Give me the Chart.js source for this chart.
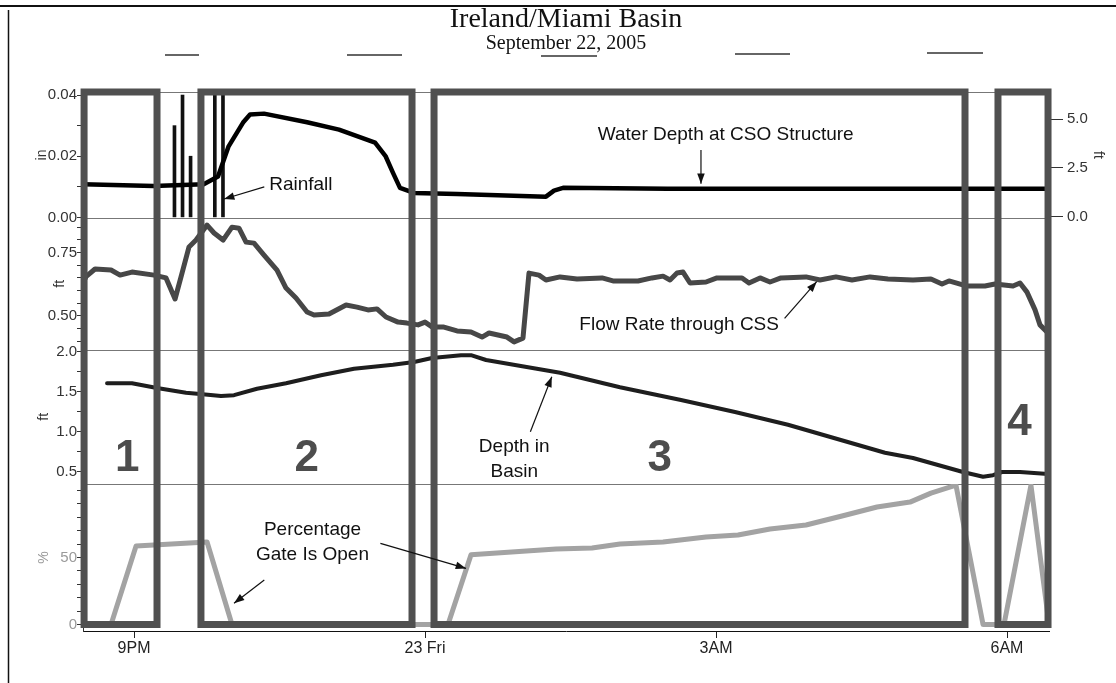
<!DOCTYPE html>
<html lang="en">
<head>
<meta charset="utf-8">
<title>Ireland/Miami Basin</title>
<script src="https://cdn.jsdelivr.net/npm/chart.js@4.4.0/dist/chart.umd.min.js"></script>
<style>
    html, body { margin: 0; padding: 0; background: #fff; }
    #wrap { width: 1116px; height: 683px; }
</style>
</head>
<body>
<div id="wrap"><canvas id="basinChart"></canvas></div>

<script type="text/javascript">

    // x values are hours after 9 PM, September 22 2005
    const timeTicks = [0, 3, 6, 9];
    const timeLabels = ['9PM', '23 Fri', '3AM', '6AM'];

    const rainHour = [0.417, 0.5, 0.583, 0.833, 0.917];
    const rainInches = [0.03, 0.04, 0.02, 0.04, 0.04];

    const csoHour = [-0.526, 0.202, 0.718, 0.866, 0.975, 1.124, 1.196, 1.340, 1.784, 2.113, 2.485,
        2.595, 2.670, 2.742, 2.887, 3.330, 4.247, 4.330, 4.423, 5.500, 7.000, 9.433];
    const csoFeet = [1.66, 1.57, 1.66, 2.05, 3.60, 4.82, 5.23, 5.28, 4.84, 4.46, 3.79,
        3.08, 2.24, 1.47, 1.21, 1.16, 1.02, 1.33, 1.47, 1.42, 1.42, 1.42];

    const flowHour = [-0.526, -0.495, -0.402, -0.237, -0.144, -0.021, 0.206, 0.330, 0.423, 0.495,
        0.567, 0.639, 0.753, 0.825, 0.918, 1.010, 1.082, 1.155, 1.237, 1.340,
        1.474, 1.567, 1.670, 1.784, 1.856, 2.010, 2.186, 2.299, 2.412, 2.505,
        2.598, 2.722, 2.814, 2.928, 3.000, 3.072, 3.186, 3.330, 3.474, 3.588,
        3.660, 3.845, 3.918, 4.010, 4.072, 4.175, 4.247, 4.392, 4.567, 4.825,
        4.938, 5.196, 5.340, 5.454, 5.526, 5.598, 5.660, 5.732, 5.897, 6.010,
        6.268, 6.340, 6.454, 6.557, 6.670, 6.928, 7.072, 7.237, 7.402, 7.588,
        7.773, 8.031, 8.216, 8.330, 8.402, 8.588, 8.773, 8.876, 9.062, 9.134,
        9.206, 9.289, 9.340, 9.423];
    const flowRate = [0.630, 0.655, 0.685, 0.681, 0.661, 0.673, 0.661, 0.650, 0.567, 0.669,
        0.772, 0.799, 0.858, 0.827, 0.799, 0.850, 0.846, 0.791, 0.787, 0.740,
        0.681, 0.610, 0.571, 0.516, 0.504, 0.508, 0.543, 0.535, 0.524, 0.528,
        0.496, 0.476, 0.472, 0.465, 0.476, 0.457, 0.457, 0.441, 0.437, 0.417,
        0.433, 0.417, 0.398, 0.413, 0.669, 0.661, 0.642, 0.654, 0.646, 0.650,
        0.638, 0.638, 0.650, 0.657, 0.642, 0.669, 0.673, 0.630, 0.634, 0.650,
        0.650, 0.630, 0.650, 0.634, 0.650, 0.654, 0.642, 0.654, 0.642, 0.654,
        0.646, 0.642, 0.646, 0.626, 0.638, 0.618, 0.618, 0.626, 0.618, 0.630,
        0.594, 0.524, 0.465, 0.433];

    const depthHour = [-0.278, -0.021, 0.237, 0.536, 0.680, 0.897, 1.031, 1.268, 1.567, 1.928,
        2.268, 2.670, 2.887, 3.072, 3.371, 3.474, 3.629, 4.392, 5.010, 5.639,
        6.196, 6.742, 7.742, 8.031, 8.546, 8.753, 8.856, 8.948, 9.134, 9.423];
    const depthFeet = [1.61, 1.61, 1.55, 1.49, 1.475, 1.45, 1.46, 1.54, 1.61, 1.71,
        1.79, 1.84, 1.875, 1.925, 1.96, 1.96, 1.90, 1.74, 1.56, 1.40,
        1.25, 1.09, 0.74, 0.675, 0.50, 0.44, 0.46, 0.50, 0.50, 0.475];

    const gateHour = [-0.237, 0.021, 0.753, 1.010, 3.237, 3.474, 4.351, 4.722, 5.010, 5.454,
        5.897, 6.227, 6.557, 6.928, 7.299, 7.660, 8.000, 8.216, 8.474, 8.753,
        8.969, 9.247, 9.433];
    const gatePct = [0, 58.6, 61.6, 0, 0, 52, 56.3, 57.1, 60.1, 61.6,
        65.3, 66.8, 71.3, 74.3, 81.0, 87.7, 91.4, 98.1, 104, 0,
        0, 104, 0];

    // operating periods drawn as boxes
    const periodNames = ['1', '2', '3', '4'];
    const periodFrom = [-0.515, 0.69, 3.093, 8.907];
    const periodTo = [0.237, 2.866, 8.567, 9.423];

    const inTicks = [0, 0.01, 0.02, 0.03, 0.04];
    const inLabels = [0, 0.02, 0.04];
    const ftTicks = [0, 0.5, 1, 1.5, 2, 2.5, 3, 3.5, 4, 4.5, 5, 5.5, 6];
    const ftLabels = [0, 2.5, 5];
    const flowTicks = [0.40, 0.45, 0.50, 0.55, 0.60, 0.65, 0.70, 0.75, 0.80, 0.85];
    const flowLabels = [0.50, 0.75];
    const depthTicks = [0.5, 0.75, 1.0, 1.25, 1.5, 1.75, 2.0];
    const depthLabels = [0.5, 1.0, 1.5, 2.0];
    const gateTicks = [0, 10, 20, 30, 40, 50, 60, 70, 80, 90, 100];
    const gateLabels = [0, 50];

    const toXY = (xs, ys) => xs.map((x, i) => ({x: x, y: ys[i]}));
    const isIn = (list, v) => list.some(l => Math.abs(l - v) < 1e-9);

    // annotation text and arrows, placed in axis units
    const notes = [
        {lines: ['Rainfall'], axis: 'yIn', x: 1.72, y: 0.0106},
        {lines: ['Water Depth at CSO Structure'], axis: 'yIn', x: 6.10, y: 0.0269},
        {lines: ['Flow Rate through CSS'], axis: 'yFlow', x: 5.62, y: 0.465},
        {lines: ['Depth in', 'Basin'], axis: 'yDepth', x: 3.92, y: 0.81},
        {lines: ['Percentage', 'Gate Is Open'], axis: 'yGate', x: 1.84, y: 70.5}
    ];
    const arrows = [
        {axis: 'yIn', from: [1.343, 0.0100], to: [0.928, 0.0060]},
        {axis: 'yIn', from: [5.845, 0.0220], to: [5.845, 0.0110]},
        {axis: 'yFlow', from: [6.707, 0.491], to: [7.038, 0.635]},
        {axis: 'yDepth', from: [4.086, 1.004], to: [4.307, 1.691]},
        {axis: 'yGate', from: [1.343, 33.2], to: [1.031, 15.8]},
        {axis: 'yGate', from: [2.540, 60.6], to: [3.423, 41.9]}
    ];
    const periodMarks = [
        {x: -0.07, y: 0.66}, {x: 1.78, y: 0.66}, {x: 5.42, y: 0.66}, {x: 9.13, y: 1.11}
    ];

    function panelScale(o) {
        const right = o.position === 'right';
        return {
            type: 'linear',
            position: right ? 'right' : 'left',
            stack: right ? 'right' : 'left',
            stackWeight: o.weight,
            min: o.min,
            max: o.max,
            afterBuildTicks: s => { s.ticks = o.ticks.map(v => ({value: v})); },
            afterFit: s => { s.width = right ? 57 : 71; },
            ticks: {
                autoSkip: false,
                color: o.color || '#333',
                font: {family: '"Liberation Sans", Arial, sans-serif', size: 15},
                padding: right ? 4 : 0,
                callback: v => isIn(o.labels, v) ? v.toFixed(o.digits) : ''
            },
            grid: {
                drawOnChartArea: false,
                tickLength: right ? 14 : 6,
                tickColor: c => (!right || (c.tick && isIn(o.labels, c.tick.value))) ? '#333' : 'rgba(0,0,0,0)'
            },
            border: {color: '#333'},
            title: {
                display: true,
                text: o.title,
                color: o.color || '#333',
                font: {family: '"Liberation Sans", Arial, sans-serif', size: 14},
                padding: {top: o.titlePad, bottom: 0}
            }
        };
    }

    const pageFrame = {
        id: 'pageFrame',
        beforeDraw(chart) {
            const ctx = chart.ctx;
            ctx.save();
            ctx.fillStyle = '#fff';
            ctx.fillRect(0, 0, chart.width, chart.height);
            ctx.strokeStyle = '#111';
            ctx.lineWidth = 2;
            ctx.beginPath(); ctx.moveTo(0, 6); ctx.lineTo(chart.width, 6); ctx.stroke();
            ctx.lineWidth = 1.5;
            ctx.beginPath(); ctx.moveTo(8.5, 10); ctx.lineTo(8.5, chart.height); ctx.stroke();
            // leftover legend strokes under the title
            ctx.strokeStyle = '#333';
            ctx.lineWidth = 1.5;
            [[165, 199, 55], [347, 402, 55], [541, 597, 56], [735, 790, 54], [927, 983, 53]].forEach(s => {
                ctx.beginPath(); ctx.moveTo(s[0], s[2]); ctx.lineTo(s[1], s[2]); ctx.stroke();
            });
            ctx.restore();
        }
    };

    const panelLines = {
        id: 'panelLines',
        beforeDatasetsDraw(chart) {
            const {ctx, chartArea, scales} = chart;
            ctx.save();
            ctx.strokeStyle = '#777';
            ctx.lineWidth = 1;
            ['yIn', 'yFlow', 'yDepth', 'yGate'].forEach(id => {
                const y = Math.round(scales[id].top) + 0.5;
                ctx.beginPath(); ctx.moveTo(chartArea.left, y); ctx.lineTo(chartArea.right, y); ctx.stroke();
            });
            ctx.restore();
        }
    };

    const periodsAndNotes = {
        id: 'periodsAndNotes',
        afterDatasetsDraw(chart) {
            const {ctx, chartArea, scales} = chart;
            const x = scales.x;
            ctx.save();

            // period boxes
            const top = chartArea.top;
            const bottom = scales.yGate.getPixelForValue(0);
            ctx.strokeStyle = '#505050';
            ctx.lineWidth = 7;
            periodFrom.forEach((h, i) => {
                const x0 = x.getPixelForValue(h);
                const x1 = x.getPixelForValue(periodTo[i]);
                ctx.strokeRect(x0, top, x1 - x0, bottom - top);
            });

            ctx.fillStyle = '#4d4d4d';
            ctx.font = 'bold 44px "Liberation Sans", Arial, sans-serif';
            ctx.textAlign = 'center';
            ctx.textBaseline = 'middle';
            periodMarks.forEach((m, i) => {
                ctx.fillText(periodNames[i], x.getPixelForValue(m.x), scales.yDepth.getPixelForValue(m.y));
            });

            // notes
            ctx.fillStyle = '#111';
            ctx.font = '19px "Liberation Sans", Arial, sans-serif';
            notes.forEach(n => {
                const px = x.getPixelForValue(n.x);
                const py = scales[n.axis].getPixelForValue(n.y);
                n.lines.forEach((t, k) => ctx.fillText(t, px, py + k * 25));
            });

            ctx.strokeStyle = '#111';
            ctx.lineWidth = 1.2;
            arrows.forEach(a => {
                const y = scales[a.axis];
                const x0 = x.getPixelForValue(a.from[0]), y0 = y.getPixelForValue(a.from[1]);
                const x1 = x.getPixelForValue(a.to[0]), y1 = y.getPixelForValue(a.to[1]);
                const ang = Math.atan2(y1 - y0, x1 - x0);
                ctx.beginPath(); ctx.moveTo(x0, y0); ctx.lineTo(x1, y1); ctx.stroke();
                ctx.beginPath();
                ctx.moveTo(x1, y1);
                ctx.lineTo(x1 - 11 * Math.cos(ang - 0.35), y1 - 11 * Math.sin(ang - 0.35));
                ctx.lineTo(x1 - 11 * Math.cos(ang + 0.35), y1 - 11 * Math.sin(ang + 0.35));
                ctx.closePath();
                ctx.fill();
            });
            ctx.restore();
        }
    };

    new Chart('basinChart', {
        type: 'line',
        data: {
            datasets: [
                {
                    label: 'Water Depth at CSO Structure',
                    data: toXY(csoHour, csoFeet),
                    yAxisID: 'yFt',
                    borderColor: '#000',
                    borderWidth: 4.5
                },
                {
                    label: 'Depth in Basin',
                    data: toXY(depthHour, depthFeet),
                    yAxisID: 'yDepth',
                    borderColor: '#1e1e1e',
                    borderWidth: 4
                },
                {
                    label: 'Flow Rate through CSS',
                    data: toXY(flowHour, flowRate),
                    yAxisID: 'yFlow',
                    borderColor: '#474747',
                    borderWidth: 5
                },
                {
                    label: 'Percentage Gate Is Open',
                    data: toXY(gateHour, gatePct),
                    yAxisID: 'yGate',
                    borderColor: '#a3a3a3',
                    borderWidth: 5
                },
                {
                    type: 'bar',
                    label: 'Rainfall',
                    data: toXY(rainHour, rainInches),
                    yAxisID: 'yIn',
                    backgroundColor: '#111',
                    barThickness: 3,
                    grouped: false
                }
            ]
        },
        options: {
            responsive: true,
            maintainAspectRatio: false,
            animation: false,
            events: [],
            layout: {padding: {top: 0, left: 12, right: 10, bottom: 22}},
            elements: {
                point: {radius: 0},
                line: {tension: 0, borderJoinStyle: 'round', borderCapStyle: 'round'}
            },
            plugins: {
                legend: {display: false},
                tooltip: {enabled: false},
                title: {
                    display: true,
                    text: 'Ireland/Miami Basin',
                    fullSize: false,
                    color: '#111',
                    font: {family: '"Liberation Serif", "Times New Roman", serif', size: 28, weight: 'normal', lineHeight: 1},
                    padding: {top: 6, bottom: 0}
                },
                subtitle: {
                    display: true,
                    text: 'September 22, 2005',
                    fullSize: false,
                    color: '#111',
                    font: {family: '"Liberation Serif", "Times New Roman", serif', size: 20, lineHeight: 1},
                    padding: {top: 0, bottom: 38}
                }
            },
            scales: {
                x: {
                    type: 'linear',
                    min: -0.526,
                    max: 9.433,
                    offset: false,
                    afterBuildTicks: s => { s.ticks = timeTicks.map(v => ({value: v})); },
                    afterFit: s => { s.height = 30; },
                    ticks: {
                        autoSkip: false,
                        maxRotation: 0,
                        color: '#222',
                        font: {family: '"Liberation Sans", Arial, sans-serif', size: 16},
                        padding: 1,
                        callback: (v, i) => timeLabels[i]
                    },
                    grid: {drawOnChartArea: false, offset: false, tickLength: 7, color: '#222'},
                    border: {color: '#111'}
                },
                // left stack, listed bottom panel first
                yGate: panelScale({weight: 147, min: -4.85, max: 104.9, ticks: gateTicks, labels: gateLabels,
                    digits: 0, title: '%', titlePad: 24, color: '#9a9a9a'}),
                yDepth: panelScale({weight: 134.5, min: 0.35, max: 2.031, ticks: depthTicks, labels: depthLabels,
                    digits: 1, title: 'ft', titlePad: 24}),
                yFlow: panelScale({weight: 131.5, min: 0.368, max: 0.886, ticks: flowTicks, labels: flowLabels,
                    digits: 2, title: 'ft', titlePad: 40}),
                yIn: panelScale({weight: 126, min: -0.0002, max: 0.041, ticks: inTicks, labels: inLabels,
                    digits: 2, title: 'in', titlePad: 22}),
                // right stack, top panel first
                yFt: panelScale({position: 'right', weight: 126, min: -0.077, max: 6.39, ticks: ftTicks, labels: ftLabels,
                    digits: 1, title: 'ft', titlePad: 0}),
                yPad: {
                    type: 'linear',
                    position: 'right',
                    stack: 'right',
                    stackWeight: 413,
                    afterFit: s => { s.width = 57; },
                    ticks: {display: false},
                    grid: {display: false},
                    border: {display: false}
                }
            }
        },
        plugins: [pageFrame, panelLines, periodsAndNotes]
    });

</script>
</body>
</html>
